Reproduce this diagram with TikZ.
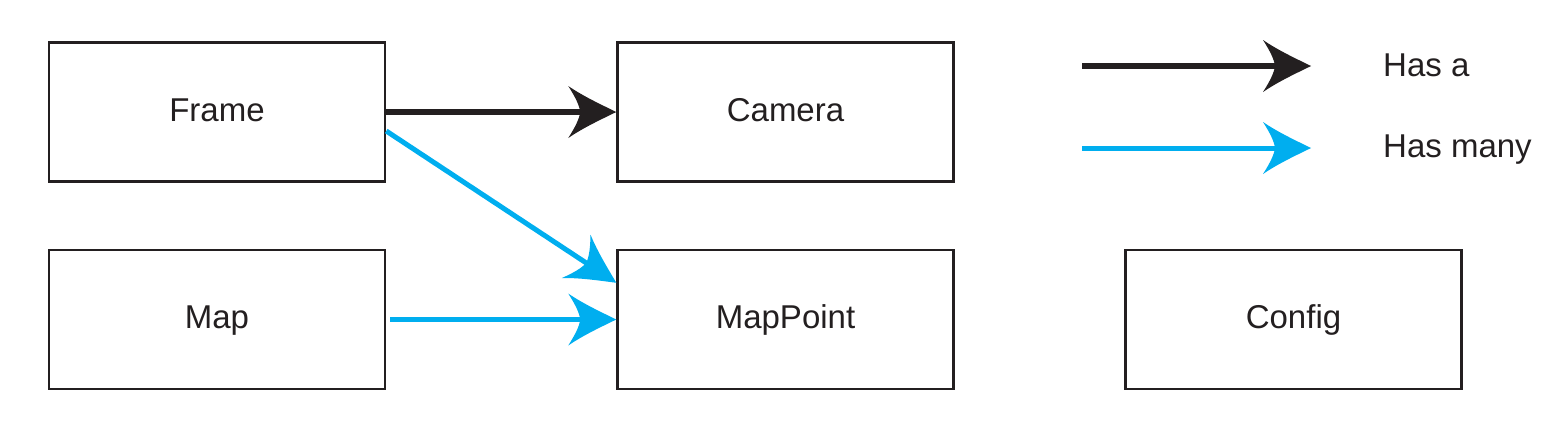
\documentclass[tikz,border=0pt]{standalone}
\usepackage{fontspec}
\setmainfont{Liberation Sans}
\usetikzlibrary{arrows.meta}
\definecolor{ink}{HTML}{231F20}
\definecolor{sky}{HTML}{00AEEF}
\pgfdeclarearrow{
  name=Curvy,
  parameters={},
  setup code={
    \pgfarrowssettipend{0pt}
    \pgfarrowssetlineend{-30pt}
    \pgfarrowssetbackend{-48pt}
    \pgfarrowssetvisualbackend{-38pt}
    \pgfarrowshullpoint{0pt}{0pt}
    \pgfarrowsupperhullpoint{-48pt}{26pt}
  },
  drawing code={
    \pgfpathmoveto{\pgfqpoint{0pt}{0pt}}
    \pgfpathcurveto{\pgfqpoint{-12pt}{6pt}}{\pgfqpoint{-32pt}{15pt}}{\pgfqpoint{-48pt}{26pt}}
    \pgfpathcurveto{\pgfqpoint{-41pt}{15pt}}{\pgfqpoint{-37pt}{7pt}}{\pgfqpoint{-36pt}{0pt}}
    \pgfpathcurveto{\pgfqpoint{-37pt}{-7pt}}{\pgfqpoint{-41pt}{-15pt}}{\pgfqpoint{-48pt}{-26pt}}
    \pgfpathcurveto{\pgfqpoint{-32pt}{-15pt}}{\pgfqpoint{-12pt}{-6pt}}{\pgfqpoint{0pt}{0pt}}
    \pgfpathclose
    \pgfusepathqfill
  }
}
\begin{document}
\begin{tikzpicture}[x=1pt,y=-1pt,
  box/.style={draw=ink,line width=2.5pt,minimum width=336pt,minimum height=139pt,inner sep=0pt,
    font=\fontsize{33}{40}\selectfont,text=ink,text height=18pt,text depth=0pt},
  hasa/.style={color=ink,line width=6pt,-Curvy},
  hasmany/.style={color=sky,line width=5pt,-Curvy},
  lab/.style={anchor=base west,font=\fontsize{33}{40}\selectfont,text=ink,inner sep=0pt}]
\useasboundingbox (0,0) rectangle (1546,424);
\node[box] (frame) at (217,112) {Frame};
\node[box] (camera) at (785.5,112) {Camera};
\node[box] (map) at (217,319.5) {Map};
\node[box] (mappoint) at (785.5,319.5) {MapPoint};
\node[box] (config) at (1293.5,319.5) {Config};
\draw[hasa] (frame.east) -- (camera.west);
\draw[hasmany] ([yshift=-19pt]frame.east) -- ([yshift=-34pt]mappoint.north west);
\draw[hasmany] ([xshift=4pt]map.east) -- (mappoint.west);
\coordinate (la1) at (1082,66);
\coordinate (la2) at (1311,66);
\coordinate (lb1) at (1082,148);
\coordinate (lb2) at (1311,148);
\draw[hasa] (la1) -- (la2);
\draw[hasmany] (lb1) -- (lb2);
\node[lab] (hasa) at (1383,76) {Has a};
\node[lab] (hasmany) at (1383,157) {Has many};
\end{tikzpicture}
\end{document}
